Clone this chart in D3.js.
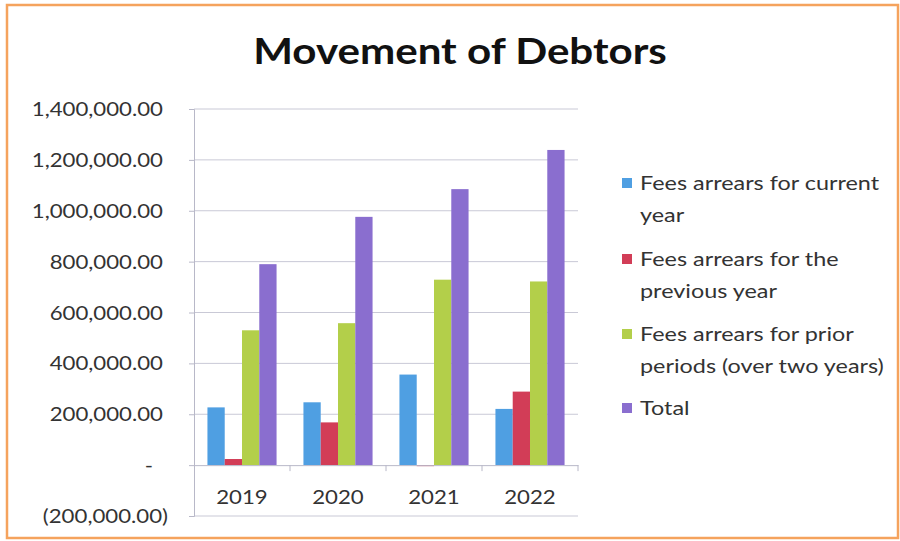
<!DOCTYPE html>
<html>
<head>
<meta charset="utf-8">
<script src="https://cdn.jsdelivr.net/npm/d3@7"></script>
<style>
  html, body { margin: 0; padding: 0; background: #fff; }
  svg { display: block; }
</style>
</head>
<body>
<svg id="chart" width="900" height="541"></svg>
<script>
// Debtor balances by year and arrears category
const years = ["2019", "2020", "2021", "2022"];
const seriesNames = [
  "Fees arrears for current year",
  "Fees arrears for the previous year",
  "Fees arrears for prior periods (over two years)",
  "Total"
];
const currentYear  = [227000, 247000, 356000, 221000];
const previousYear = [24000, 168000, -4000, 289000];
const priorPeriods = [530000, 558000, 729000, 722000];
const totals       = [790000, 976000, 1085000, 1239000];
const yTicks = [-200000, 0, 200000, 400000, 600000, 800000, 1000000, 1200000, 1400000];

const seriesValues = [currentYear, previousYear, priorPeriods, totals];
const colors = ["#4f9fe2", "#d23d57", "#b3cf4a", "#8a6ecf"];
const legendLines = [
  ["Fees arrears for current", "year"],
  ["Fees arrears for the", "previous year"],
  ["Fees arrears for prior", "periods (over two years)"],
  ["Total"]
];

const svg = d3.select("#chart");
const font = "Lato, 'Open Sans', sans-serif";
const stretch = 1.17;   // wide lettering used throughout the chart

// text placed at an anchor point, widened horizontally around that point
function label(parent, x, y, str, opts = {}) {
  const g = parent.append("g")
    .attr("transform", `translate(${x},${y}) scale(${stretch},1)`);
  return g.append("text")
    .attr("x", 0).attr("y", 0)
    .attr("text-anchor", opts.anchor || "start")
    .attr("font-family", font)
    .attr("font-weight", opts.weight || 400)
    .attr("font-size", opts.size || 19)
    .attr("fill", opts.fill || "#333")
    .text(str);
}

// outer frame
svg.append("rect")
  .attr("x", 7).attr("y", 5).attr("width", 891).attr("height", 533)
  .attr("fill", "#fff").attr("stroke", "#f5a35d").attr("stroke-width", 2.5);

// title
label(svg, 460, 64, "Movement of Debtors", { anchor: "middle", weight: 700, size: 36, fill: "#111" });

const plot = { left: 194, right: 578, top: 109, bottom: 516 };

const y = d3.scaleLinear().domain([-200000, 1400000]).range([plot.bottom, plot.top]);
const x0 = d3.scaleBand().domain(years).range([plot.left, plot.right]).paddingInner(0).paddingOuter(0);
const groupPad = 0.14;
const x1 = d3.scaleBand().domain(d3.range(seriesValues.length))
  .range([x0.bandwidth() * groupPad, x0.bandwidth() * (1 - groupPad)]);

const fmt = v => {
  if (v === 0) return "-";
  const s = d3.format(",.2f")(Math.abs(v));
  return v < 0 ? "(" + s + ")" : s;
};

// gridlines
svg.append("g").selectAll("line").data(yTicks.filter(t => t !== 0))
  .join("line")
  .attr("x1", plot.left).attr("x2", plot.right)
  .attr("y1", d => y(d)).attr("y2", d => y(d))
  .attr("stroke", "#c9c9d6").attr("stroke-width", 1);

// y axis line and ticks
const yAxis = svg.append("g")
  .attr("transform", `translate(${plot.left},0)`)
  .call(d3.axisLeft(y).tickValues(yTicks).tickFormat("").tickSize(5));
yAxis.select(".domain").attr("stroke", "#b8b8c8");
yAxis.selectAll(".tick line").attr("stroke", "#b8b8c8");

// y tick labels, accounting style: negatives in brackets, zero as a dash
const yLabels = svg.append("g");
yTicks.forEach(t => {
  const xEnd = t < 0 ? 168 : (t === 0 ? 153 : 163);
  label(yLabels, xEnd, y(t) + 7, fmt(t), { anchor: "end", size: 19 });
});

// bars
const groups = svg.append("g").selectAll("g").data(years)
  .join("g")
  .attr("transform", d => `translate(${x0(d)},0)`);

groups.selectAll("rect")
  .data((d, i) => seriesValues.map((vals, s) => ({ s, v: vals[i] })))
  .join("rect")
  .attr("x", d => x1(d.s))
  .attr("width", x1.bandwidth())
  .attr("y", d => y(Math.max(0, d.v)))
  .attr("height", d => Math.max(1, Math.abs(y(d.v) - y(0))))
  .attr("fill", d => colors[d.s]);

// category axis along zero
const xAxis = svg.append("g")
  .attr("transform", `translate(0,${y(0)})`)
  .call(d3.axisBottom(x0).tickSize(0).tickFormat(""));
xAxis.select(".domain").attr("stroke", "#b8b8c8");
svg.append("g").selectAll("line").data(years)
  .join("line")
  .attr("x1", d => x0(d) + x0.bandwidth()).attr("x2", d => x0(d) + x0.bandwidth())
  .attr("y1", y(0)).attr("y2", y(0) + 6)
  .attr("stroke", "#b8b8c8");
const xLabels = svg.append("g");
years.forEach(yr => {
  label(xLabels, x0(yr) + x0.bandwidth() / 2, y(0) + 39, yr, { anchor: "middle", size: 19 });
});

// legend
const legend = svg.append("g").attr("transform", "translate(622,0)");
const legendTop = [183, 259, 334, 408];
legendLines.forEach((lines, i) => {
  const g = legend.append("g").attr("transform", `translate(0,${legendTop[i]})`);
  g.append("rect").attr("x", 0).attr("y", -5).attr("width", 10).attr("height", 10)
    .attr("fill", colors[i]);
  lines.forEach((t, j) => {
    label(g, 18, j * 32 + 7, t, { size: 20 });
  });
});
</script>
</body>
</html>
